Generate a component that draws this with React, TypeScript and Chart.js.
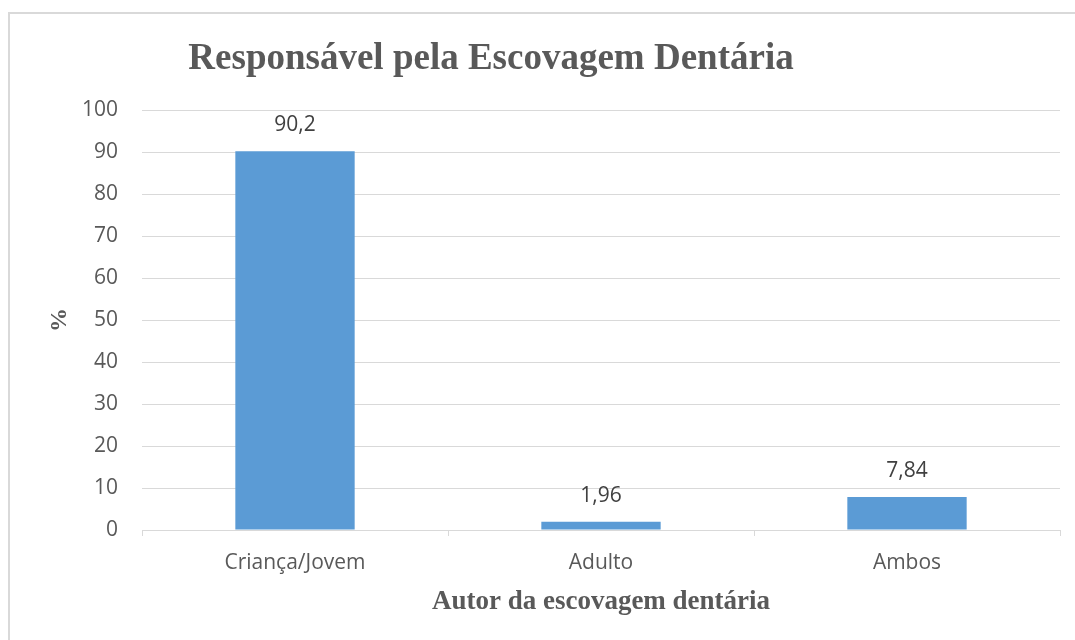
import React, { useEffect, useRef } from "react";
import { Chart, registerables } from "chart.js";

Chart.register(...registerables);

const categories = ["Criança/Jovem", "Adulto", "Ambos"];
const percentValues = [90.2, 1.96, 7.84];
const chartTitle = "Responsável pela Escovagem Dentária";
const xAxisTitle = "Autor da escovagem dentária";
const yAxisTitle = "%";

const TEXT = "#595959";
const GRID = "#d9d9d9";
const BAR = "#5b9bd5";
const SANS = '"Open Sans", "Liberation Sans", sans-serif';
const SERIF = '"Liberation Serif", "DejaVu Serif", serif';

const framePlugin = {
  id: "frame",
  beforeDraw(chart: any) {
    const { ctx } = chart;
    ctx.save();
    ctx.fillStyle = "#ffffff";
    ctx.fillRect(0, 0, chart.width, chart.height);
    ctx.strokeStyle = GRID;
    ctx.lineWidth = 2;
    ctx.strokeRect(9, 13, 1200, 800);
    ctx.restore();
  },
  afterDraw(chart: any) {
    const { ctx } = chart;
    ctx.save();
    ctx.font = `bold 37px ${SERIF}`;
    ctx.fillStyle = TEXT;
    ctx.textAlign = "center";
    ctx.textBaseline = "alphabetic";
    ctx.fillText(chartTitle, 491, 69);
    ctx.restore();
  },
};

const valueLabelPlugin = {
  id: "valueLabels",
  afterDatasetsDraw(chart: any) {
    const { ctx } = chart;
    const meta = chart.getDatasetMeta(0);
    ctx.save();
    ctx.font = `21px ${SANS}`;
    ctx.fillStyle = "#404040";
    ctx.textAlign = "center";
    ctx.textBaseline = "middle";
    meta.data.forEach((el: any, i: number) => {
      const v = percentValues[i];
      ctx.fillText(String(v).replace(".", ","), el.x, el.y - 26);
    });
    ctx.restore();
  },
};

export default function App() {
  const ref = useRef<HTMLCanvasElement | null>(null);
  useEffect(() => {
    if (!ref.current) return;
    const chart = new Chart(ref.current, {
      type: "bar",
      data: {
        labels: categories,
        datasets: [
          {
            data: percentValues,
            backgroundColor: BAR,
            borderWidth: 0,
            barPercentage: 0.39,
            categoryPercentage: 1,
          },
        ],
      },
      options: {
        responsive: false,
        animation: false,
        layout: { padding: { top: 110, left: 8, right: 15, bottom: 0 } },
        plugins: {
          legend: { display: false },
          title: { display: false },
          tooltip: { enabled: false },
        },
        scales: {
          x: {
            afterFit: (s: any) => {
              s.height = 110;
            },
            grid: {
              offset: true,
              drawOnChartArea: false,
              drawTicks: true,
              tickLength: 6,
              color: GRID,
              lineWidth: 1,
            },
            border: { display: true, color: GRID, width: 1 },
            ticks: { color: TEXT, font: { family: SANS, size: 21 }, padding: 14 },
            title: {
              display: true,
              text: xAxisTitle,
              color: TEXT,
              font: { family: SERIF, size: 27, weight: "bold" },
              padding: { top: 0, bottom: 22 },
            },
          },
          y: {
            min: 0,
            max: 100,
            afterFit: (s: any) => {
              s.width = 134;
            },
            ticks: { stepSize: 10, color: TEXT, font: { family: SANS, size: 21 }, padding: 24 },
            grid: { color: GRID, lineWidth: 1, drawTicks: false },
            border: { display: false },
            title: {
              display: true,
              text: yAxisTitle,
              color: TEXT,
              font: { family: SERIF, size: 24, weight: "bold" },
              padding: { top: 37, bottom: 0 },
            },
          },
        },
      },
      plugins: [framePlugin, valueLabelPlugin],
    });
    return () => chart.destroy();
  }, []);
  return (
    <div style={{ position: "fixed", left: 0, top: 0, width: 1075, height: 640, background: "#fff" }}>
      <canvas ref={ref} width={1075} height={640} style={{ display: "block" }} />
    </div>
  );
}
